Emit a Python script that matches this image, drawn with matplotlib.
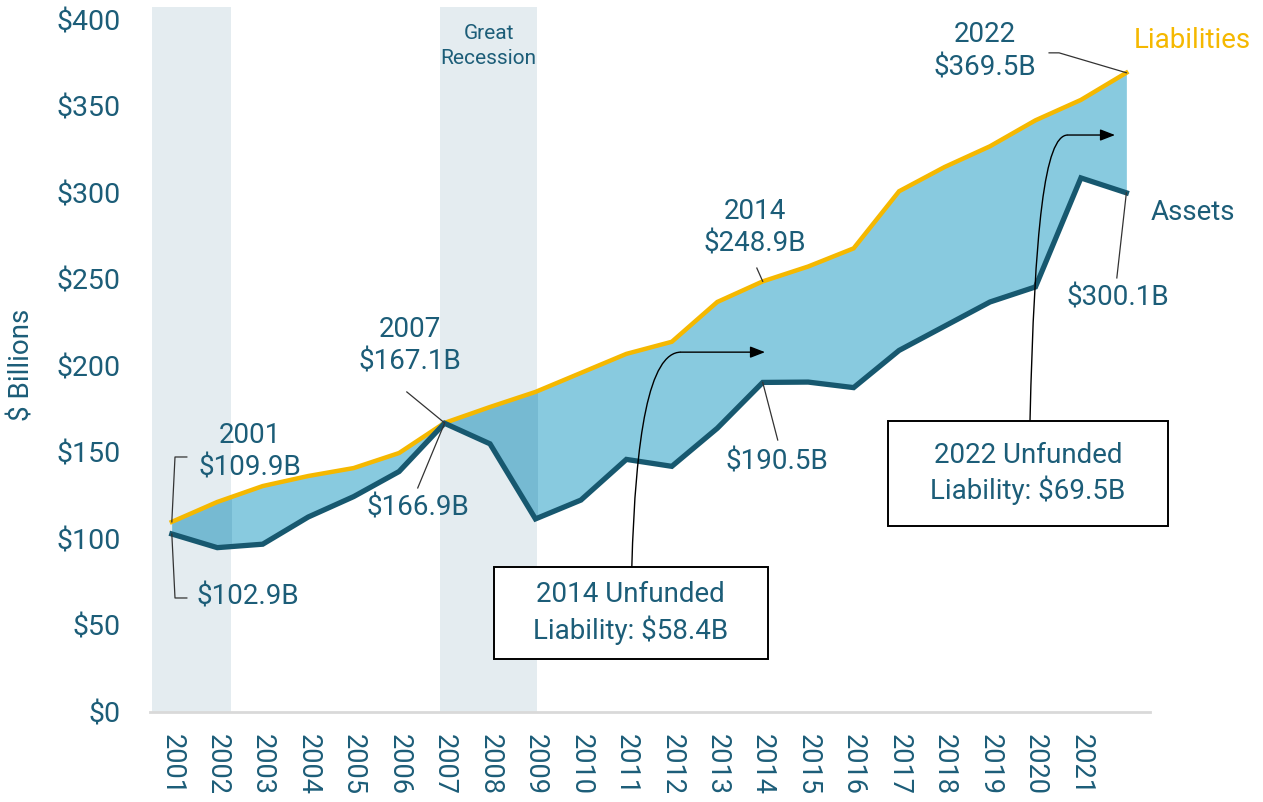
import matplotlib
matplotlib.use("Agg")
import matplotlib.pyplot as plt
import numpy as np
from matplotlib.path import Path
from matplotlib.patches import PathPatch, Rectangle

years = [2001, 2002, 2003, 2004, 2005, 2006, 2007, 2008, 2009, 2010, 2011,
         2012, 2013, 2014, 2015, 2016, 2017, 2018, 2019, 2020, 2021, 2022]
liabilities = [109.9, 121.4, 130.6, 136.4, 141.0, 149.7, 167.1, 176.3, 185.0, 196.0, 207.0,
               214.0, 237.0, 248.9, 257.5, 268.0, 301.0, 315.0, 327.0, 342.0, 353.8, 369.5]
assets = [102.9, 95.0, 97.0, 112.7, 124.5, 139.0, 166.9, 155.0, 111.6, 122.5, 146.0,
          142.0, 164.0, 190.5, 190.7, 187.5, 209.0, 223.0, 237.0, 245.7, 308.7, 300.1]
tick_years = list(range(2001, 2022))
ytick_vals = [0, 50, 100, 150, 200, 250, 300, 350, 400]
ytick_labels = ["$" + str(v) for v in ytick_vals]
shade_periods = [(2000.57, 2002.3), (2006.9, 2009.03)]

TEAL = "#1c5d78"
LINE_DARK = "#17586f"
YELLOW = "#f5b800"
FILL = "#88cadf"
FILL_DARK = "#76bad2"
SHADE = "#e4ecf0"
LEADER = "#333333"

plt.rcParams['font.family'] = ['Roboto', 'DejaVu Sans']
FS = 20

fig = plt.figure(figsize=(12.63, 8.02), dpi=100)
ax = fig.add_axes([150/1263, 1-712/802, 1000/1263, 705/802])
ax.set_xlim(2000.52, 2022.52)
ax.set_ylim(0, 407.5)

spans = []
for a, b in shade_periods:
    spans.append(ax.axvspan(a, b, color=SHADE, zorder=0, lw=0))

ax.fill_between(years, assets, liabilities, color=FILL, lw=0, zorder=1)
for sp in spans:
    f = ax.fill_between(years, assets, liabilities, color=FILL_DARK, lw=0, zorder=1.1)
    f.set_clip_path(sp)

ax.plot(years, liabilities, color=YELLOW, lw=3.2, zorder=3, solid_joinstyle='miter')
ax.plot(years, assets, color=LINE_DARK, lw=3.8, zorder=3, solid_joinstyle='miter')

for s in ['left', 'right', 'top']:
    ax.spines[s].set_visible(False)
ax.spines['bottom'].set_color('#d9d9d9')
ax.spines['bottom'].set_linewidth(2)

ax.set_xticks(tick_years)
ax.set_xticklabels([str(y) for y in tick_years], rotation=270, fontsize=19.5, color=TEAL)
ax.set_yticks(ytick_vals)
ax.set_yticklabels(ytick_labels, fontsize=20.5, color=TEAL)
ax.tick_params(axis='x', length=0, pad=16)
ax.tick_params(axis='y', length=0, pad=21)
fig.text(22/1263, 1-365/802, "$ Billions", rotation=90, ha='center', va='center',
         fontsize=FS, color=TEAL)

def T(x, y, s, **kw):
    kw.setdefault('fontsize', FS)
    kw.setdefault('color', TEAL)
    ax.text(x, y, s, ha='center', va='center', clip_on=False, zorder=5, **kw)

def L(xs, ys):
    ax.plot(xs, ys, color=LEADER, lw=0.9, zorder=4, clip_on=False)

T(2002.72, 150.3, "2001\n$109.9B", linespacing=1.25)
L([2001, 2001.07, 2001.33], [109.9, 147.4, 147.4])
T(2002.67, 66.5, "$102.9B")
L([2001, 2001.07, 2001.33], [102.9, 65.9, 65.9])

T(2006.24, 211.6, "2007\n$167.1B", linespacing=1.25)
L([2007, 2006.17], [167.1, 185])
T(2006.41, 118, "$166.9B")
L([2007, 2006.41], [166.9, 129.5])

T(2013.83, 280, "2014\n$248.9B", linespacing=1.25)
L([2014, 2013.87], [248.9, 256.6])
T(2014.31, 144.5, "$190.5B")
L([2014, 2014.33], [190.5, 157.2])

T(2018.89, 382, "2022\n$369.5B", linespacing=1.3)
L([2022, 2020.52, 2020.3], [369.5, 381, 381])
T(2021.81, 239.3, "$300.1B")
L([2022, 2021.79], [300.1, 250.9])

T(2023.44, 388.4, "Liabilities", color=YELLOW)
T(2023.46, 289, "Assets")
T(2007.97, 385, "Great\nRecession", fontsize=15, linespacing=1.35)

def boxed(x0, x1, y0, y1, s):
    ax.add_patch(Rectangle((x0, y0), x1 - x0, y1 - y0, fc='white', ec='black',
                           lw=1.4, zorder=4.5, clip_on=False))
    T((x0 + x1) / 2, (y0 + y1) / 2, s, linespacing=1.3)

boxed(2008.085, 2014.113, 30.6, 83.8, "2014 Unfunded\nLiability: $58.4B")
boxed(2016.753, 2022.914, 107.5, 168.2, "2022 Unfunded\nLiability: $69.5B")

def curve_arrow(x0, y0, xc1, yc1, xc2, yc2, x1, y1, xt):
    verts = [(x0, y0), (xc1, yc1), (xc2, yc2), (x1, y1)]
    codes = [Path.MOVETO, Path.CURVE4, Path.CURVE4, Path.CURVE4]
    ax.add_patch(PathPatch(Path(verts, codes), fc='none', ec='black', lw=1.0, zorder=4))
    ax.annotate("", xy=(xt, y1), xytext=(x1, y1),
                arrowprops=dict(arrowstyle='-|>,head_length=0.9,head_width=0.35',
                                color='black', lw=1.0, shrinkA=0, shrinkB=0), zorder=4)

curve_arrow(2011.12, 83.8, 2011.2, 160, 2011.5, 208, 2012.2, 208, 2014.05)
curve_arrow(2019.88, 168.2, 2019.98, 280, 2020.2, 333.5, 2020.71, 333.5, 2021.75)

fig.savefig("out.png", dpi=100)
